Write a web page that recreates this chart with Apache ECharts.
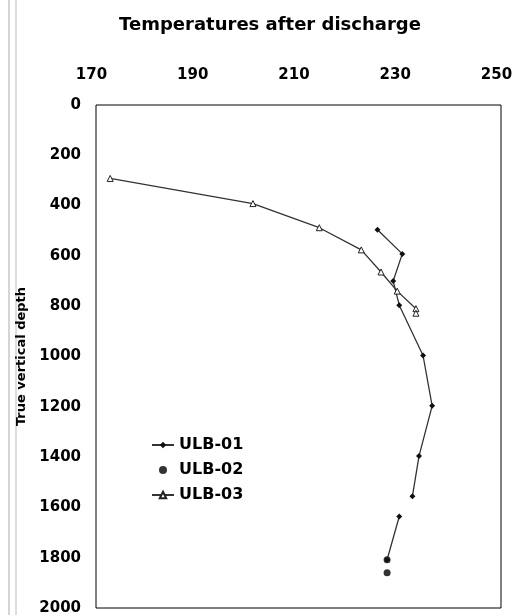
<!DOCTYPE html>
<html>
<head>
<meta charset="utf-8">
<script src="https://cdn.jsdelivr.net/npm/echarts@6/dist/echarts.min.js"></script>
<style>
html,body{margin:0;padding:0;background:#fff;overflow:hidden;}
#c{width:515px;height:615px;}
</style>
</head>
<body>
<div id="c"></div>
<script>
var titleText = 'Temperatures after discharge';
var yAxisName = 'True vertical depth';
var seriesNames = ['ULB-01', 'ULB-02', 'ULB-03'];
// [temperature, depth]
var ulb01 = [[225.6,496],[230.5,592],[228.7,700],[229.9,796],[234.6,996],[236.4,1196],[233.8,1396],[232.5,1556],['-','-'],[229.9,1636],[227.5,1808]];
var ulb02 = [[227.5,1808],[227.5,1860]];
var ulb03 = [[172.8,292],[201.0,392],[214.1,488],[222.4,576],[226.3,664],[229.5,740],[233.2,810],[233.2,828]];
var xMin = 170, xMax = 250, xStep = 20;
var yMin = 0, yMax = 2000, yStep = 200;

var FONT = 'DejaVu Sans';
var chart = echarts.init(document.getElementById('c'));
chart.setOption({
  animation: false,
  backgroundColor: '#fff',
  title: {
    text: titleText, left: 265, textAlign: 'center', top: 11,
    textStyle: {fontFamily: FONT, fontWeight: 'bold', fontSize: 18, color: '#000'}
  },
  legend: {
    orient: 'vertical', left: 146, top: 431, itemWidth: 22, itemHeight: 8, itemGap: 7,
    textStyle: {fontFamily: FONT, fontWeight: 'bold', fontSize: 16, color: '#000', lineHeight: 18},
    data: [
      {name: seriesNames[0]},
      {name: seriesNames[1], icon: 'circle'},
      {name: seriesNames[2]}
    ]
  },
  grid: {left: 96, right: 14, top: 105, bottom: 7, outerBoundsMode: 'none', containLabel: false,
         show: true, borderColor: '#000', borderWidth: 1, backgroundColor: 'transparent'},
  xAxis: {
    type: 'value', position: 'top', min: xMin, max: xMax, interval: xStep,
    axisLine: {show: false}, axisTick: {show: false}, splitLine: {show: false},
    axisLabel: {margin: 22, padding: [0, 9, 0, 0], fontFamily: FONT, fontWeight: 'bold', fontSize: 15, color: '#000', formatter: function (v) { return String(v); }}
  },
  yAxis: {
    type: 'value', inverse: true, min: yMin, max: yMax, interval: yStep,
    name: yAxisName, nameLocation: 'middle', nameGap: 66,
    nameTextStyle: {fontFamily: FONT, fontWeight: 'bold', fontSize: 13, color: '#000'},
    axisLine: {show: false}, axisTick: {show: false}, splitLine: {show: false},
    axisLabel: {margin: 15, fontFamily: FONT, fontWeight: 'bold', fontSize: 15, color: '#000', formatter: function (v) { return String(v); }}
  },
  graphic: [
    {type: 'line', shape: {x1: 9, y1: 0, x2: 9, y2: 615}, style: {stroke: '#aaa', lineWidth: 1}},
    {type: 'line', shape: {x1: 16, y1: 0, x2: 16, y2: 615}, style: {stroke: '#bbb', lineWidth: 1}}
  ],
  series: [
    {name: seriesNames[0], type: 'line', data: ulb01, connectNulls: false,
     symbol: 'diamond', symbolSize: 6, showAllSymbol: true,
     itemStyle: {color: '#111'}, lineStyle: {color: '#333', width: 1.3}},
    {name: seriesNames[1], type: 'scatter', data: ulb02,
     symbol: 'circle', symbolSize: 7, itemStyle: {color: '#000'}},
    {name: seriesNames[2], type: 'line', data: ulb03,
     symbol: 'triangle', symbolSize: 6, showAllSymbol: true,
     itemStyle: {color: '#fff', borderColor: '#222', borderWidth: 1}, lineStyle: {color: '#333', width: 1.3}}
  ]
});
</script>
</body>
</html>
